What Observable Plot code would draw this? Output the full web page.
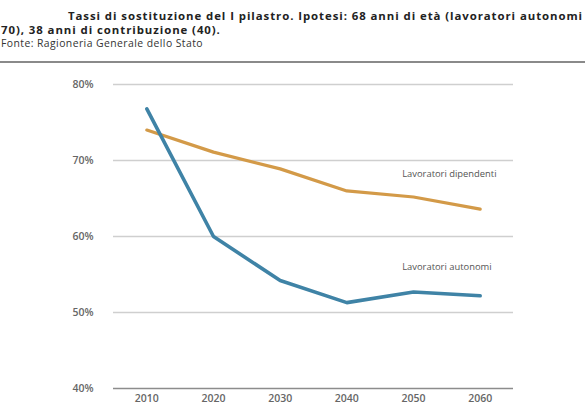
<!DOCTYPE html>
<html>
<head>
<meta charset="utf-8">
<script src="https://cdn.jsdelivr.net/npm/d3@7"></script>
<script src="https://cdn.jsdelivr.net/npm/@observablehq/plot@0.6"></script>
<style>
  html, body { margin: 0; padding: 0; background: #fff; width: 585px; height: 406px; overflow: hidden; }
  #wrap { position: relative; width: 585px; height: 406px; font-family: "Open Sans", sans-serif; }
  .tl { position: absolute; font-weight: 700; font-size: 11.4px; color: #222; white-space: nowrap; line-height: 13px; }
  #t1 { left: 68px; top: 9px; }
  #t2 { left: 1px; top: 23px; }
  #source { position: absolute; left: 1px; top: 37px; font-size: 10.4px; color: #333; white-space: nowrap; line-height: 12px; }
  #rule { position: absolute; left: 0; top: 61px; width: 585px; height: 2px; background: #8a8a8a; }
  #chart { position: absolute; left: 0; top: 64px; }
</style>
</head>
<body>
<div id="wrap">
  <div id="t1" class="tl">Tassi di sostituzione del I pilastro. Ipotesi: 68 anni di età (lavoratori autonomi</div>
  <div id="t2" class="tl">70), 38 anni di contribuzione (40).</div>
  <div id="source">Fonte: Ragioneria Generale dello Stato</div>
  <div id="rule"></div>
  <div id="chart"></div>
</div>
<script>
const years = [2010, 2020, 2030, 2040, 2050, 2060];
const dipendenti = [74.0, 71.1, 68.9, 66.0, 65.2, 63.6];
const autonomi = [76.8, 60.0, 54.2, 51.3, 52.7, 52.2];
const yTicks = [40, 50, 60, 70, 80];
const seriesLabels = ["Lavoratori dipendenti", "Lavoratori autonomi"];
const labelPos = [{x: 2048.3, y: 68.2}, {x: 2048.3, y: 56.0}];

// spread letters so the header lines span like the reference
function fitSpacing(el, target) {
  const w = el.getBoundingClientRect().width;
  const n = el.textContent.length;
  const ls = (target - w) / n;
  el.style.letterSpacing = ls + "px";
  return ls;
}
(function () {
  const t1 = document.getElementById("t1"), t2 = document.getElementById("t2");
  const ls = fitSpacing(t1, 515);
  t2.style.letterSpacing = ls + "px";
  fitSpacing(document.getElementById("source"), 202);
})();

const dataDip = years.map((y, i) => ({year: y, value: dipendenti[i]}));
const dataAut = years.map((y, i) => ({year: y, value: autonomi[i]}));
const labels = seriesLabels.map((t, i) => ({text: t, x: labelPos[i].x, y: labelPos[i].y}));

const plot = Plot.plot({
  width: 585,
  height: 342,
  marginTop: 20,
  marginBottom: 18,
  marginLeft: 113,
  marginRight: 72,
  style: {fontFamily: "'Open Sans', sans-serif", background: "#fff"},
  x: {domain: [2005, 2065], axis: null},
  y: {domain: [40, 80], axis: null},
  marks: [
    Plot.ruleY(yTicks.filter(d => d > 40), {stroke: "#cfcfcf", strokeWidth: 1.5}),
    Plot.ruleY([40], {stroke: "#8c8c8c", strokeWidth: 1.5}),
    Plot.axisY(yTicks, {tickSize: 0, tickPadding: 20, tickFormat: d => d + "%", fontSize: 10.5, fontWeight: 600, fill: "#666"}),
    Plot.axisX(years, {tickSize: 0, tickPadding: 6, tickFormat: d => String(d), fontSize: 10.5, fontWeight: 600, fill: "#666"}),
    Plot.line(dataDip, {x: "year", y: "value", stroke: "#d39a48", strokeWidth: 3.2}),
    Plot.line(dataAut, {x: "year", y: "value", stroke: "#3f83a6", strokeWidth: 3.6}),
    Plot.text(labels, {x: "x", y: "y", text: "text", textAnchor: "start", fontSize: 9.4, fill: "#555"})
  ]
});
document.getElementById("chart").appendChild(plot);
</script>
</body>
</html>
